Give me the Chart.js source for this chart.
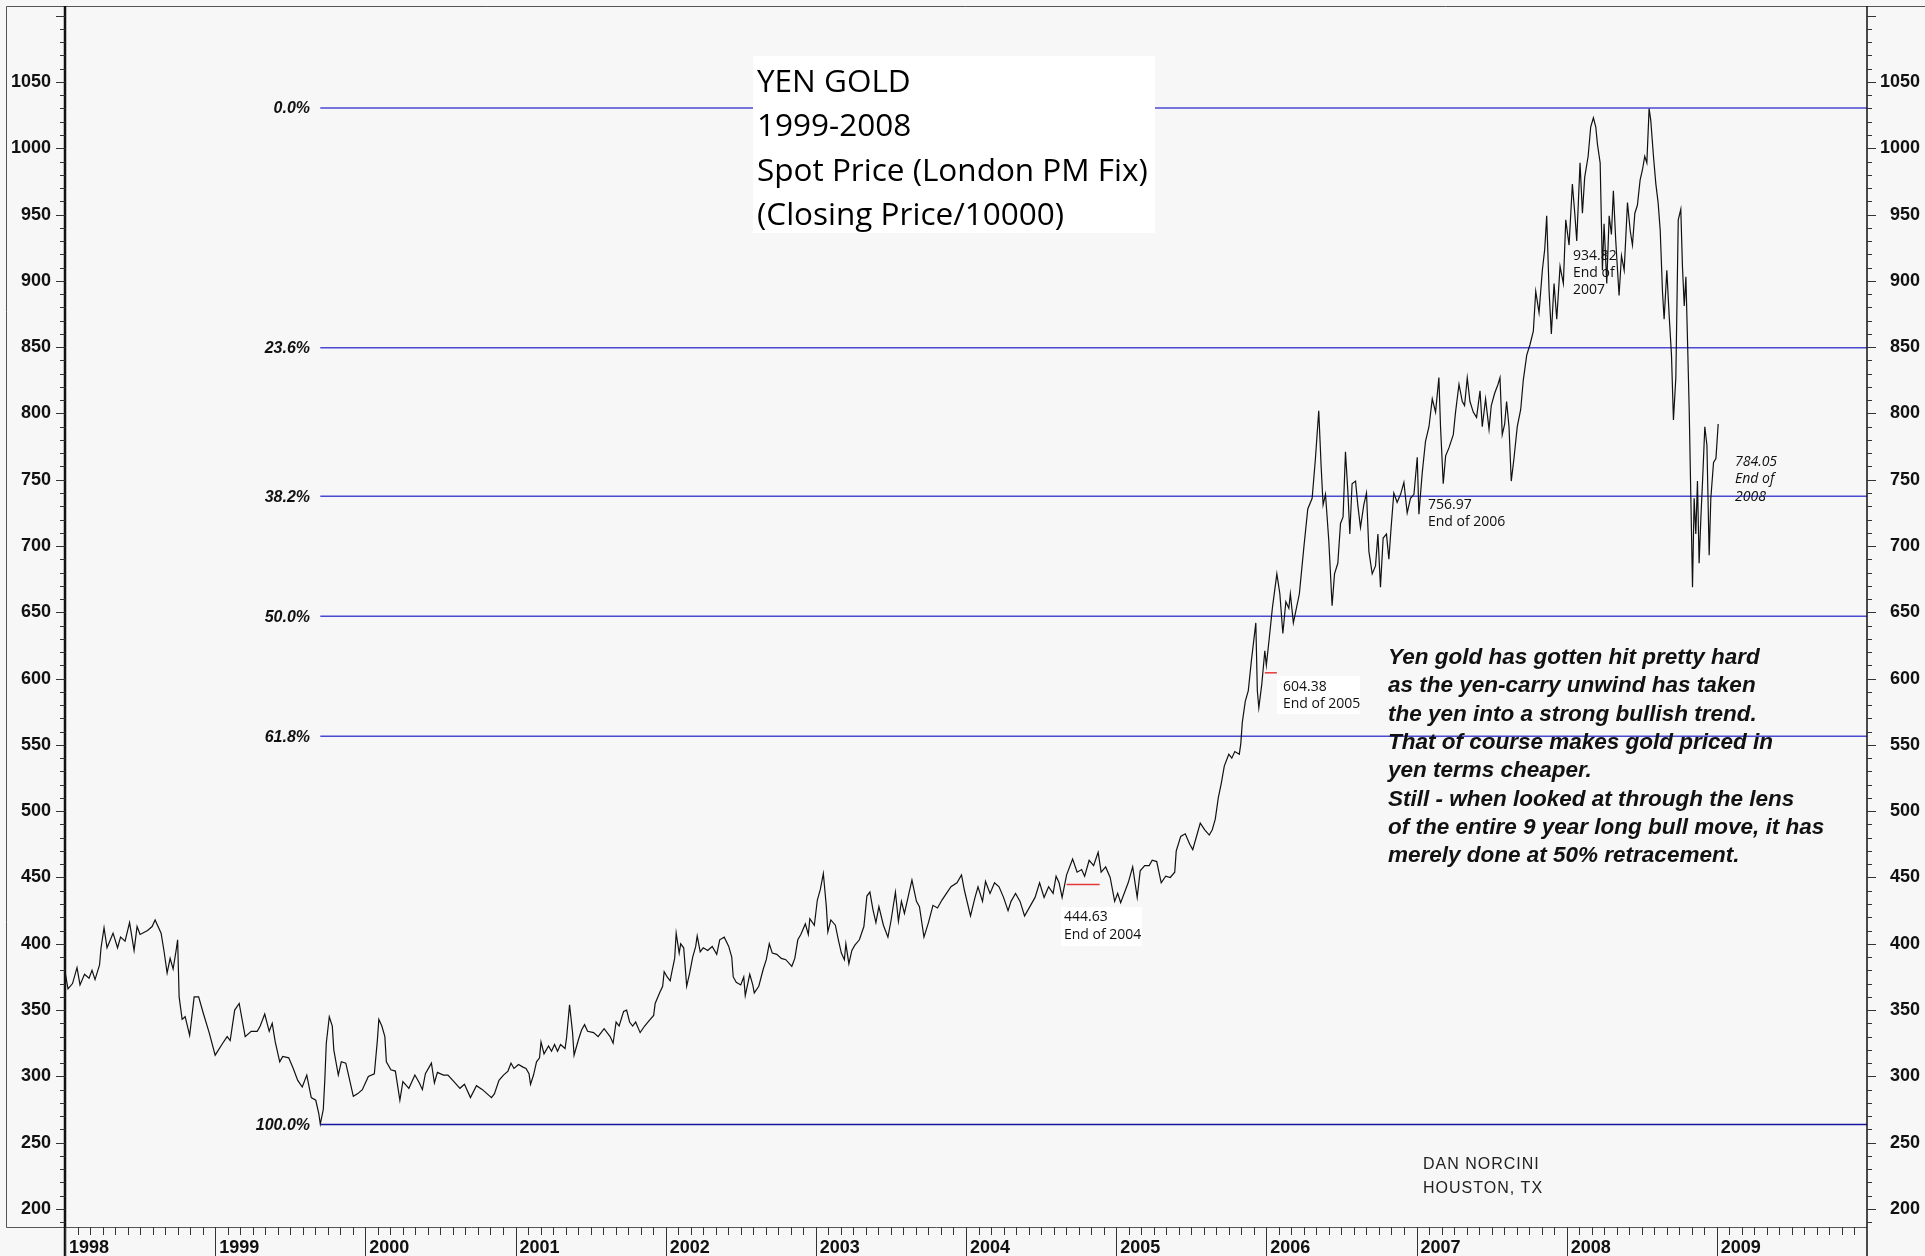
<!DOCTYPE html>
<html>
<head>
<meta charset="utf-8">
<script src="https://cdn.jsdelivr.net/npm/chart.js@4.4.1/dist/chart.umd.min.js"></script>
<style>
  html, body { margin: 0; padding: 0; background: #f7f7f7; }
  canvas { display: block; }
</style>
</head>
<body>
<canvas id="chart" width="1925" height="1256"></canvas>
<script>
// yen gold (decimal year, price)
const dates = [
  1998.00, 1998.02, 1998.05, 1998.08, 1998.10, 1998.13, 1998.16, 1998.18, 1998.20, 1998.23,
  1998.24, 1998.26, 1998.28, 1998.32, 1998.35, 1998.37, 1998.40, 1998.43, 1998.46, 1998.48,
  1998.50, 1998.55, 1998.58, 1998.60, 1998.64, 1998.66, 1998.68, 1998.70, 1998.72, 1998.74,
  1998.75, 1998.76, 1998.78, 1998.80, 1998.83, 1998.86, 1998.89, 1998.92, 1998.96, 1999.00,
  1999.05, 1999.08, 1999.10, 1999.13, 1999.16, 1999.20, 1999.24, 1999.28, 1999.30, 1999.33,
  1999.36, 1999.38, 1999.40, 1999.43, 1999.45, 1999.49, 1999.52, 1999.55, 1999.58, 1999.61,
  1999.64, 1999.67, 1999.69, 1999.70, 1999.72, 1999.73, 1999.74, 1999.76, 1999.78, 1999.79,
  1999.82, 1999.84, 1999.87, 1999.89, 1999.92, 1999.95, 1999.98, 2000.02, 2000.06, 2000.08,
  2000.09, 2000.11, 2000.13, 2000.14, 2000.17, 2000.20, 2000.23, 2000.25, 2000.29, 2000.33,
  2000.36, 2000.38, 2000.40, 2000.44, 2000.46, 2000.48, 2000.52, 2000.55, 2000.59, 2000.63,
  2000.66, 2000.70, 2000.74, 2000.78,
  2000.84, 2000.86, 2000.89, 2000.92, 2000.95, 2000.97, 2000.99, 2001.02, 2001.05, 2001.07,
  2001.09, 2001.10, 2001.12, 2001.14, 2001.16, 2001.17, 2001.19, 2001.22, 2001.24, 2001.26,
  2001.28, 2001.30, 2001.33, 2001.34, 2001.36, 2001.38, 2001.39, 2001.42, 2001.44, 2001.46,
  2001.48, 2001.52, 2001.55, 2001.57, 2001.59, 2001.63, 2001.65, 2001.67, 2001.69, 2001.72,
  2001.74, 2001.76, 2001.78, 2001.80, 2001.83, 2001.86, 2001.89, 2001.92, 2001.93, 2001.96,
  2001.98, 2001.99, 2002.01, 2002.03, 2002.04, 2002.06, 2002.07, 2002.09, 2002.10, 2002.12,
  2002.14, 2002.16, 2002.18, 2002.20, 2002.21, 2002.23, 2002.25, 2002.28, 2002.31, 2002.34,
  2002.36, 2002.39, 2002.42, 2002.44, 2002.45, 2002.47, 2002.50, 2002.52, 2002.53, 2002.56,
  2002.58, 2002.59, 2002.62, 2002.65, 2002.67, 2002.69, 2002.71, 2002.74, 2002.77, 2002.80,
  2002.84, 2002.86, 2002.88, 2002.90, 2002.93, 2002.95, 2002.96, 2002.99, 2003.01, 2003.03,
  2003.05, 2003.07, 2003.08, 2003.10, 2003.13, 2003.15, 2003.17, 2003.19, 2003.20, 2003.22,
  2003.24, 2003.26, 2003.29, 2003.32, 2003.34, 2003.36, 2003.38, 2003.40, 2003.42, 2003.45,
  2003.48, 2003.50, 2003.53, 2003.55, 2003.57, 2003.59, 2003.62,
  2003.64, 2003.67, 2003.69, 2003.72, 2003.75, 2003.78, 2003.81, 2003.84, 2003.87, 2003.90,
  2003.94, 2003.97, 2003.99, 2004.03, 2004.06, 2004.08, 2004.11, 2004.13, 2004.16, 2004.19,
  2004.22, 2004.25, 2004.28, 2004.30, 2004.33, 2004.36, 2004.39, 2004.43, 2004.46, 2004.49,
  2004.52, 2004.55, 2004.58, 2004.60, 2004.62, 2004.64, 2004.67, 2004.71, 2004.74, 2004.77,
  2004.79, 2004.82, 2004.85, 2004.88, 2004.90, 2004.93, 2004.96, 2004.99, 2005.01, 2005.03,
  2005.06, 2005.08, 2005.11, 2005.14, 2005.16, 2005.19, 2005.22, 2005.24, 2005.27, 2005.30,
  2005.33, 2005.36, 2005.39, 2005.40, 2005.43, 2005.46, 2005.49, 2005.51, 2005.54, 2005.56,
  2005.59, 2005.62, 2005.64, 2005.66, 2005.68, 2005.70, 2005.72, 2005.75, 2005.77, 2005.79,
  2005.82, 2005.83, 2005.84, 2005.86, 2005.88, 2005.90, 2005.93, 2005.94, 2005.95, 2005.97,
  2005.99, 2006.00, 2006.02, 2006.04, 2006.07, 2006.09, 2006.11, 2006.13, 2006.15, 2006.16,
  2006.18, 2006.20, 2006.22,
  2006.249, 2006.276, 2006.305, 2006.327, 2006.349, 2006.365, 2006.378, 2006.394, 2006.416, 2006.438,
  2006.454, 2006.476, 2006.494, 2006.511, 2006.527, 2006.543, 2006.556, 2006.571, 2006.594, 2006.609,
  2006.627, 2006.649, 2006.667, 2006.683, 2006.705, 2006.727, 2006.743, 2006.760, 2006.778, 2006.800,
  2006.816, 2006.831, 2006.849, 2006.871, 2006.894, 2006.916, 2006.938, 2006.960, 2006.983, 2007.005,
  2007.016, 2007.038, 2007.060, 2007.083, 2007.105, 2007.127, 2007.149, 2007.160, 2007.178, 2007.194,
  2007.216, 2007.245, 2007.260, 2007.283, 2007.305, 2007.320, 2007.338, 2007.356, 2007.378, 2007.400,
  2007.423, 2007.438, 2007.460, 2007.483, 2007.498, 2007.520, 2007.543, 2007.556, 2007.571, 2007.587,
  2007.600, 2007.616, 2007.631, 2007.649, 2007.671, 2007.694, 2007.711, 2007.734, 2007.756, 2007.778,
  2007.794, 2007.816, 2007.838, 2007.854, 2007.867, 2007.883, 2007.898, 2007.916, 2007.934, 2007.956,
  2007.978, 2007.994, 2008.016, 2008.038, 2008.054, 2008.067, 2008.089, 2008.105, 2008.120, 2008.143,
  2008.160, 2008.178, 2008.194, 2008.205, 2008.223, 2008.238, 2008.249, 2008.267, 2008.283, 2008.298,
  2008.311, 2008.327, 2008.349, 2008.365, 2008.383, 2008.405, 2008.423, 2008.438, 2008.454, 2008.471,
  2008.489, 2008.505, 2008.520, 2008.534, 2008.549, 2008.560, 2008.578, 2008.594, 2008.609, 2008.623,
  2008.638, 2008.649, 2008.667, 2008.683, 2008.698, 2008.711, 2008.727, 2008.743, 2008.760, 2008.771,
  2008.783, 2008.794, 2008.805, 2008.816, 2008.827, 2008.838, 2008.849, 2008.860, 2008.871, 2008.882,
  2008.894, 2008.905, 2008.920, 2008.934, 2008.949, 2008.960, 2008.978, 2008.994, 2009.009
];
const prices = [
  379, 366, 370, 382, 369, 377, 374, 380, 373, 384,
  397, 412, 397, 408, 397, 405, 402, 416, 395, 413,
  407, 410, 413, 418, 408, 394, 378, 389, 381, 395,
  403, 360, 343, 345, 331, 360, 360, 348, 333, 316,
  325, 330, 327, 350, 355, 330, 334, 334, 338, 347,
  334, 340, 326, 311, 315, 314, 306, 297, 292, 301,
  284, 282, 272, 264, 275, 297, 325, 345, 338, 320,
  301, 311, 310, 300, 285, 287, 290, 300, 302, 327,
  343, 338, 330, 311, 305, 304, 282, 296, 291, 301,
  295, 290, 302, 310, 295, 303, 301, 301, 296, 291,
  294, 284, 293, 290,
  284, 287, 297, 301, 304, 310, 306, 309, 307, 306,
  302, 294, 301, 311, 314, 326, 317, 323, 319, 324,
  319, 324, 321, 329, 354, 333, 316, 328, 335, 339,
  334, 333, 330, 333, 336, 330, 325, 341, 338, 349,
  350, 341, 338, 341, 333, 338, 342, 346, 355, 363,
  368, 379, 375, 372, 378, 389, 408, 393, 400, 397,
  368, 378, 390, 398, 406, 394, 397, 395, 398, 392,
  403, 405, 398, 390, 375, 371, 369, 375, 361, 377,
  369, 363, 368, 381, 388, 400, 393, 392, 389, 388,
  383, 389, 403, 407, 415, 407, 419, 414, 433, 441,
  453, 428, 409, 418, 414, 403, 393, 388, 400, 385,
  395, 399, 403, 413, 436, 439, 426, 416, 428, 414,
  405, 417, 439, 417, 432, 423, 438,
  448, 432, 428, 405, 416, 429, 427, 433, 438, 443,
  446, 452, 440, 421, 435, 443, 432, 447, 438, 446,
  443, 435, 425, 432, 438, 432, 421, 429, 435, 446,
  435, 443, 438, 451, 446, 435, 452, 464, 454, 456,
  451, 463, 459, 469, 454, 458, 450, 432, 438, 431,
  440, 446, 458, 435, 455, 459, 459, 463, 462, 446,
  451, 450, 454, 470, 481, 483, 475, 471, 483, 491,
  486, 482, 486, 494, 510, 521, 534, 543, 540, 545,
  543, 551, 567, 583, 591, 613, 642, 591, 578, 596,
  621, 610, 631, 653, 679, 664, 634, 658, 653, 664,
  642, 653, 664,
  698, 728, 736, 766, 802, 760, 731, 739, 704, 655,
  679, 687, 717, 722, 771, 741, 709, 747, 749, 731,
  714, 731, 740, 696, 679, 685, 709, 669, 706, 709,
  690, 714, 740, 733, 739, 748, 725, 736, 739, 767,
  724, 755, 779, 790, 811, 801, 827, 790, 747, 768,
  774, 784, 801, 822, 809, 806, 827, 809, 801, 797,
  817, 790, 811, 788, 806, 815, 822, 827, 784, 792,
  809, 790, 749, 766, 790, 803, 825, 844, 852, 862,
  892, 876, 908, 924, 949, 892, 860, 898, 871, 911,
  898, 946, 927, 973, 951, 930, 989, 951, 978, 994,
  1016, 1023, 1016, 1003, 989, 908, 943, 898, 949, 935,
  968, 930, 889, 919, 908, 959, 938, 927, 951, 957,
  976, 984, 994, 989, 1030, 1021, 994, 973, 959, 938,
  892, 871, 908, 873, 844, 795, 827, 946, 954, 911,
  881, 903, 854, 803, 736, 669, 736, 709, 749, 687,
  722, 749, 790, 776, 693, 736, 763, 766, 792
];

// fibonacci retracement from the 1999 low to the 2008 high
const fibLabels = ["0.0%", "23.6%", "38.2%", "50.0%", "61.8%", "100.0%"];
const fibLevels = [1030.4, 849.5, 737.6, 647.1, 556.6, 263.8];
const fibStart = 1999.70;

const yTicks = [200, 250, 300, 350, 400, 450, 500, 550, 600, 650, 700, 750, 800, 850, 900, 950, 1000, 1050];
const years = [1998, 1999, 2000, 2001, 2002, 2003, 2004, 2005, 2006, 2007, 2008, 2009];

const endValues = ["444.63", "604.38", "756.97", "934.82", "784.05"];
const endYears = ["2004", "2005", "2006", "2007", "2008"];

const titleLines = ["YEN GOLD", "1999-2008", "Spot Price (London PM Fix)", "(Closing Price/10000)"];
const noteLines = [
  "Yen gold has gotten hit pretty hard",
  "as the yen-carry unwind has taken",
  "the yen into a strong bullish trend.",
  "That of course makes gold priced in",
  "yen terms cheaper.",
  "Still - when looked at through the lens",
  "of the entire 9 year long bull move, it has",
  "merely done at 50% retracement."
];
const credit = ["DAN NORCINI", "HOUSTON, TX"];

const AXIS_FONT = '"Liberation Sans", Arial, sans-serif';
const HAND_FONT = '"Comic Sans MS", "Open Sans", sans-serif';

function fitFont(ctx, text, maxW, start, prefix, family) {
  let s = start;
  ctx.font = `${prefix} ${s}px ${family}`;
  while (ctx.measureText(text).width > maxW && s > 8) {
    s -= 0.5;
    ctx.font = `${prefix} ${s}px ${family}`;
  }
  return s;
}

const priceData = dates.map((d, i) => ({ x: d, y: prices[i] }));

const datasets = [{
  data: priceData,
  borderColor: "#111111",
  borderWidth: 1.2,
  pointRadius: 0
}];

fibLevels.forEach((lvl, i) => {
  datasets.push({
    data: [{ x: fibStart, y: lvl }, { x: 2010, y: lvl }],
    borderColor: i === fibLevels.length - 1 ? "#16169e" : "#4a4ad2",
    borderWidth: 1.5,
    pointRadius: 0
  });
});

// short red marks at the end-of-2004 and end-of-2005 closes
[[2004.67, 2004.89, 0], [2005.99, 2006.07, 1]].forEach(([a, b, k]) => {
  datasets.push({
    data: [{ x: a, y: +endValues[k] }, { x: b, y: +endValues[k] }],
    borderColor: "#e23a3a",
    borderWidth: 1.5,
    pointRadius: 0
  });
});

const decor = {
  id: "decor",
  beforeDraw(chart) {
    const { ctx, width, height } = chart;
    ctx.save();
    ctx.fillStyle = "#f7f7f7";
    ctx.fillRect(0, 0, width, height);
    ctx.restore();
  },
  afterDatasetsDraw(chart) {
    const { ctx, chartArea: a, scales: { x, y } } = chart;
    const H = chart.height;
    ctx.save();

    // outer frame
    ctx.strokeStyle = "#555";
    ctx.lineWidth = 1;
    ctx.beginPath();
    ctx.moveTo(6.5, a.bottom + 0.5); ctx.lineTo(6.5, 6.5); ctx.lineTo(chart.width, 6.5);
    ctx.moveTo(6.5, a.bottom + 0.5); ctx.lineTo(a.right, a.bottom + 0.5);
    ctx.stroke();

    // y axes
    ctx.strokeStyle = "#111";
    ctx.lineWidth = 2.5;
    ctx.beginPath(); ctx.moveTo(a.left, a.top); ctx.lineTo(a.left, H); ctx.stroke();
    ctx.lineWidth = 1.5;
    ctx.beginPath(); ctx.moveTo(a.right, a.top); ctx.lineTo(a.right, H); ctx.stroke();

    ctx.lineWidth = 1;
    ctx.strokeStyle = "#333";
    for (let v = 190; v <= 1100; v += 10) {
      const py = Math.round(y.getPixelForValue(v)) + 0.5;
      const len = v % 50 === 0 ? 9 : 5;
      ctx.beginPath();
      ctx.moveTo(a.left - len, py); ctx.lineTo(a.left, py);
      ctx.moveTo(a.right, py); ctx.lineTo(a.right + len, py);
      ctx.stroke();
    }
    ctx.fillStyle = "#111";
    ctx.font = `bold 18px ${AXIS_FONT}`;
    ctx.textAlign = "right";
    ctx.textBaseline = "middle";
    yTicks.forEach(v => {
      const py = y.getPixelForValue(v);
      ctx.fillText(String(v), 51, py);
      ctx.fillText(String(v), 1920, py);
    });

    // x axis: year separators, monthly ticks, labels
    ctx.strokeStyle = "#333";
    years.forEach(yr => {
      const px = Math.round(x.getPixelForValue(yr)) + 0.5;
      ctx.beginPath(); ctx.moveTo(px, a.bottom); ctx.lineTo(px, H); ctx.stroke();
      for (let m = 1; m < 12; m++) {
        const mx = Math.round(x.getPixelForValue(yr + m / 12)) + 0.5;
        ctx.beginPath(); ctx.moveTo(mx, a.bottom); ctx.lineTo(mx, a.bottom + 8); ctx.stroke();
      }
    });
    ctx.textAlign = "left";
    ctx.textBaseline = "alphabetic";
    years.forEach(yr => {
      ctx.fillText(String(yr), x.getPixelForValue(yr) + 4, 1253);
    });

    // fibonacci labels
    ctx.font = `italic bold 16px ${AXIS_FONT}`;
    ctx.textAlign = "right";
    ctx.textBaseline = "middle";
    fibLabels.forEach((t, i) => ctx.fillText(t, 310, y.getPixelForValue(fibLevels[i]) + 1));

    // title box
    ctx.fillStyle = "#ffffff";
    ctx.fillRect(753, 56, 402, 177);
    ctx.fillStyle = "#000";
    ctx.textAlign = "left";
    ctx.textBaseline = "alphabetic";
    const ts = fitFont(ctx, titleLines[2], 396, 34, "", HAND_FONT);
    ctx.font = `${ts}px ${HAND_FONT}`;
    titleLines.forEach((t, i) => ctx.fillText(t, 757, 92 + i * 44.3));

    // year-end notes
    ctx.fillStyle = "#ffffff";
    ctx.fillRect(1061, 907, 81, 39);
    ctx.fillRect(1277, 676, 83, 38);
    ctx.fillStyle = "#111";
    ctx.font = `14px ${HAND_FONT}`;
    ctx.fillText(endValues[0], 1064, 921);
    ctx.fillText("End of " + endYears[0], 1064, 939);
    ctx.fillText(endValues[1], 1283, 691);
    ctx.fillText("End of " + endYears[1], 1283, 708);
    ctx.fillText(endValues[2], 1428, 509);
    ctx.fillText("End of " + endYears[2], 1428, 526);
    ctx.fillText(endValues[3], 1573, 260);
    ctx.fillText("End of", 1573, 277);
    ctx.fillText(endYears[3], 1573, 294);
    ctx.font = `italic 14px ${HAND_FONT}`;
    ctx.fillText(endValues[4], 1735, 466);
    ctx.fillText("End of", 1735, 483);
    ctx.fillText(endYears[4], 1735, 501);

    // commentary
    const ns = fitFont(ctx, noteLines[0], 377, 24, "italic bold", AXIS_FONT);
    ctx.font = `italic bold ${ns}px ${AXIS_FONT}`;
    ctx.fillStyle = "#111";
    noteLines.forEach((t, i) => ctx.fillText(t, 1388, 664 + i * 28.3));

    // credit
    ctx.font = `16px ${AXIS_FONT}`;
    ctx.letterSpacing = "1px";
    ctx.fillStyle = "#222";
    credit.forEach((t, i) => ctx.fillText(t, 1423, 1169 + i * 24));
    ctx.restore();
  }
};

new Chart(document.getElementById("chart"), {
  type: "line",
  data: { datasets },
  options: {
    responsive: false,
    animation: false,
    devicePixelRatio: 1,
    layout: { padding: { left: 65, top: 6, right: 58, bottom: 29 } },
    plugins: { legend: { display: false }, tooltip: { enabled: false } },
    scales: {
      x: { type: "linear", min: 1998, max: 2010, display: false },
      y: { min: 186.4, max: 1107.3, display: false }
    },
    elements: { line: { tension: 0 }, point: { radius: 0 } }
  },
  plugins: [decor]
});
</script>
</body>
</html>
